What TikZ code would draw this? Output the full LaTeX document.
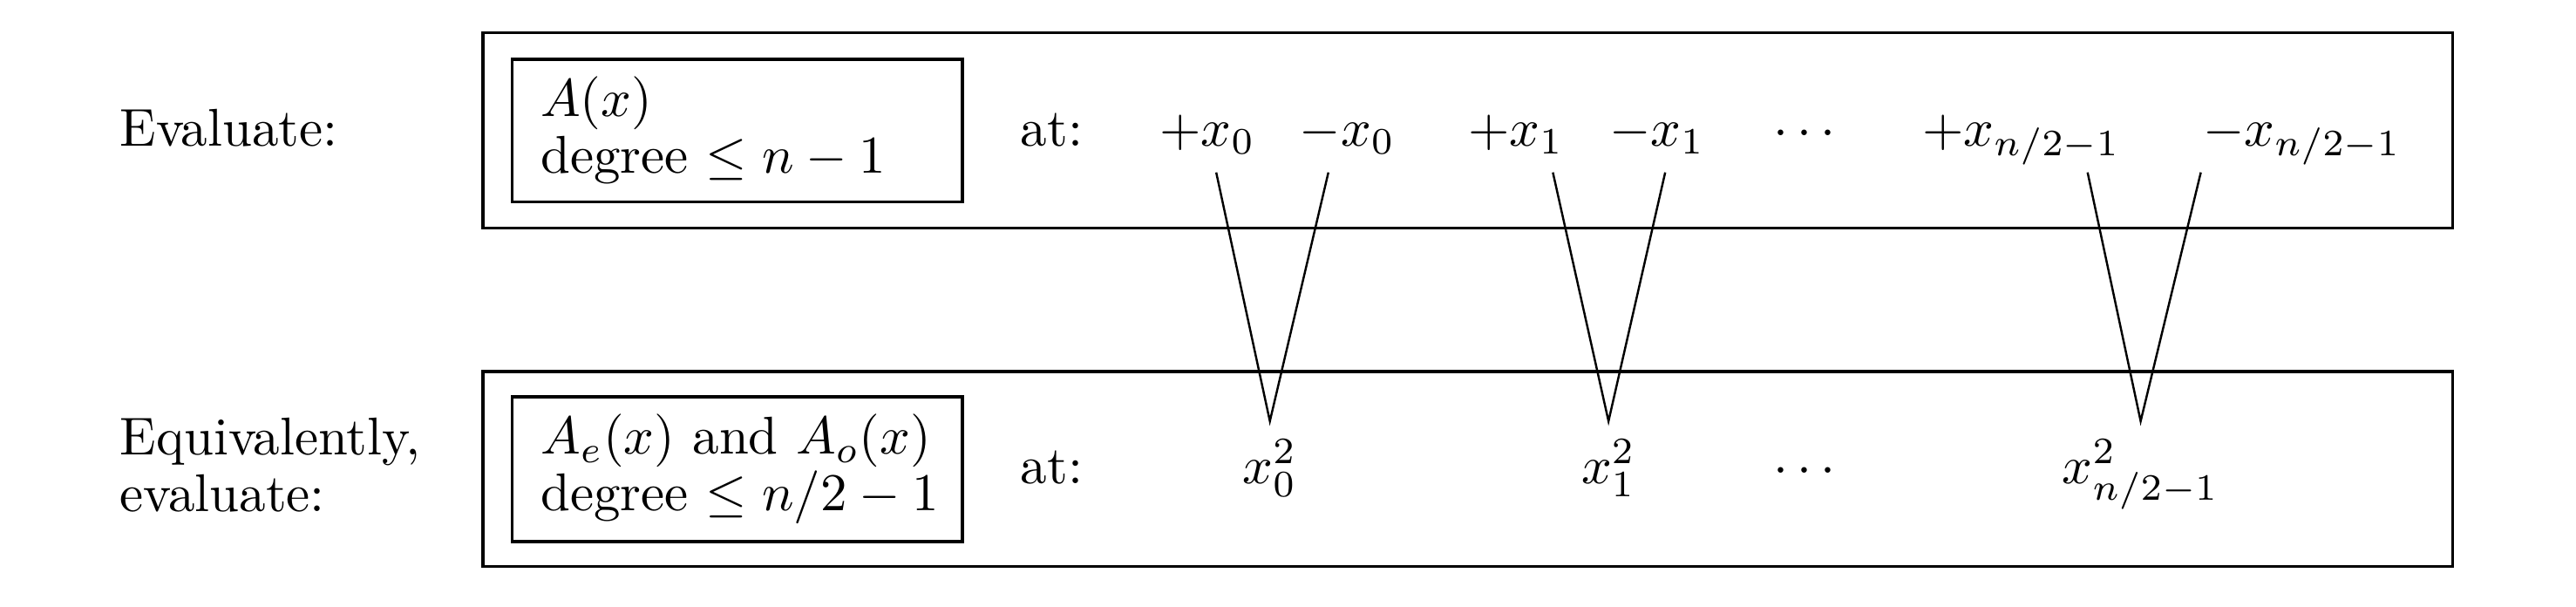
\documentclass[tikz,border=0pt]{standalone}
\usepackage{amsmath,amssymb}
\usepackage{tikz}
\usetikzlibrary{positioning,calc}
\tikzset{
  rowbox/.style={draw=black,line width=0.55pt,minimum width=13.03cm,minimum height=1.29cm,inner sep=0pt},
  poly/.style={draw=black,line width=0.55pt,minimum width=2.98cm,minimum height=0.92cm,
    text width=2.6cm,inner xsep=0.19cm,align=left},
  txt/.style={anchor=base west,inner sep=0pt},
  lab/.style={anchor=base},
  pair/.style={draw=black,line width=0.4pt},
}

\begin{document}
\begin{tikzpicture}
\useasboundingbox (0,0) rectangle (17.04,4.01);
% top row
\node[rowbox] (top) at (9.71,3.147) {};
\node[poly] (pa) at (4.876,3.147) {\mbox{$A(x)$}\\[-1.4pt]\mbox{degree $\le n-1$}};
\node[txt] (ev) at (0.786,3.044) {Evaluate:};
\node[txt] (at1) at (6.745,3.044) {at:};
\node[lab] (px0) at (7.987,3.044) {$+x_0$};
\node[lab] (mx0) at (8.913,3.044) {$-x_0$};
\node[lab] (px1) at (10.028,3.044) {$+x_1$};
\node[lab] (mx1) at (10.962,3.044) {$-x_1$};
\node[lab] (td) at (11.964,3.044) {$\cdots$};
\node[lab] (pxn) at (13.37,3.044) {$+x_{n/2-1}$};
\node[lab] (mxn) at (15.227,3.044) {$-x_{n/2-1}$};
% bottom row
\node[rowbox] (bot) at (9.71,0.908) {};
\node[poly] (pb) at (4.876,0.908) {\mbox{$A_e(x)$ and $A_o(x)$}\\[-1.4pt]\mbox{degree $\le n/2-1$}};
\node[anchor=west,inner sep=0pt,align=left] (ev2) at (0.786,0.934) {Equivalently,\\[-1.4pt]evaluate:};
\node[txt] (at2) at (6.745,0.815) {at:};
\node[lab] (s0) at (8.40,0.815) {$x_0^2$};
\node[lab] (s1) at (10.64,0.815) {$x_1^2$};
\node[lab] (sd) at (11.964,0.815) {$\cdots$};
\node[lab] (sn) at (14.16,0.815) {$x_{n/2-1}^2$};
% pairs folding down
\coordinate (ta) at (8.045,2.87);
\coordinate (tb) at (8.787,2.87);
\coordinate (tc) at (10.272,2.87);
\coordinate (tdd) at (11.015,2.87);
\coordinate (te) at (13.809,2.87);
\coordinate (tf) at (14.558,2.87);
\draw[pair] (ta)--(s0.north)--(tb);
\draw[pair] (tc)--(s1.north)--(tdd);
\draw[pair] (te)--(sn.north)--(tf);
\end{tikzpicture}
\end{document}
